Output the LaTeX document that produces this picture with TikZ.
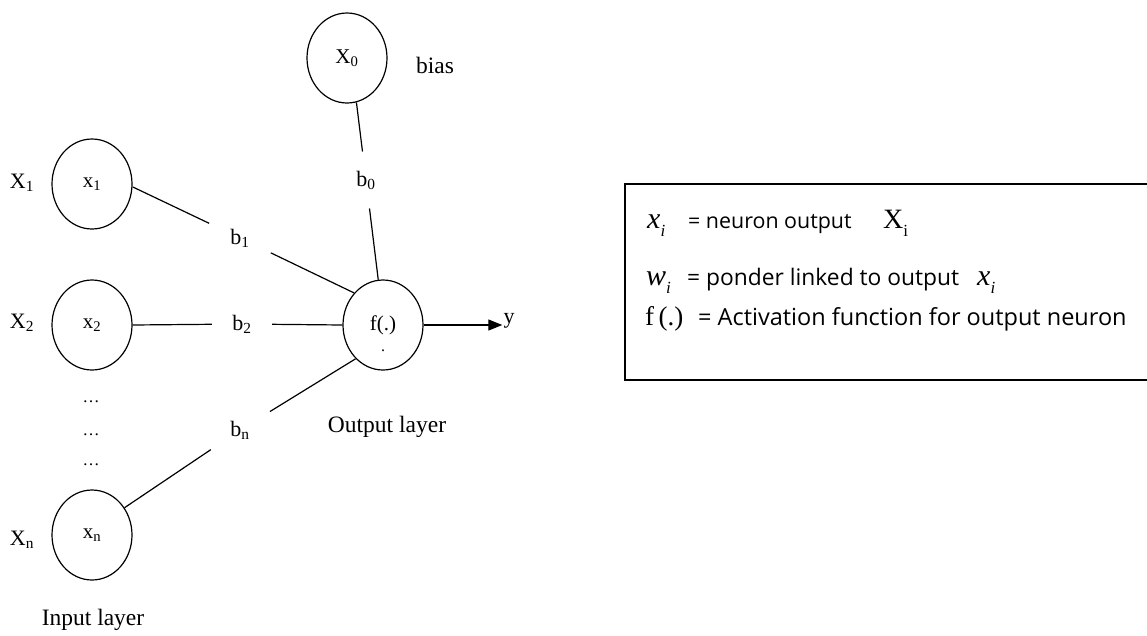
\documentclass[tikz,border=0pt]{standalone}
\usepackage{fontspec}
\setmainfont{Liberation Serif}
\newfontfamily\legendsans{Open Sans}
\usetikzlibrary{shapes.geometric,arrows.meta}
\newcommand\fsz[1]{\fontsize{#1}{#1}\selectfont}
\newcommand\lowsub[1]{\raisebox{-8pt}{\fsz{17}#1}}
\begin{document}
\begin{tikzpicture}[x=1pt,y=-1pt,
  neuron/.style={draw, ellipse, minimum width=80pt, minimum height=90pt, inner sep=0pt, line width=1.2pt, font=\fsz{21}},
  gap/.style={circle, inner sep=0pt, font=\fsz{22}},
  lab/.style={font=\fsz{22}, inner sep=0pt},
  captext/.style={font=\fsz{23.5}, inner sep=0pt},
  wire/.style={line width=1.2pt},
  leg/.style={anchor=base west, inner sep=0pt},
]
\useasboundingbox (0,0) rectangle (1147,635);
% neurons
\node[neuron] (x0) at (347,58) {X\textsubscript{0}};
\node[neuron] (x1) at (92,184) {x\textsubscript{1}};
\node[neuron] (x2) at (92,325) {x\textsubscript{2}};
\node[neuron] (xn) at (92,535) {x\textsubscript{n}};
\node[neuron] (f) at (383,325) {f(.)};
\node[lab, font=\fsz{16}, anchor=base] (fdot) at (383,351) {.};
% weight labels (gaps in the wires)
\node[gap, minimum size=57pt] (b0) at (366,180) {b\textsubscript{0}};
\node[gap, minimum size=68pt] (b1) at (240,238) {b\textsubscript{1}};
\node[gap, minimum size=60pt] (b2) at (242,324) {b\textsubscript{2}};
\node[gap, minimum size=70pt] (bn) at (240,430) {b\textsubscript{n}};
% wires
\draw[wire] (x0.282) -- (b0);
\draw[wire] (b0) -- (f.96);
\draw[wire] (x1.-4) -- (b1);
\draw[wire] (b1) -- (f.132);
\draw[wire] (x2.east) -- (b2);
\draw[wire] (b2) -- (f.west);
\draw[wire] (xn.40) -- (bn);
\draw[wire] (bn) -- (f.231);
% output
\node[lab, inner sep=1pt] (y) at (509,321) {y};
\draw[wire, -{Triangle[length=14pt,width=11pt]}] (f.east) -- (y.west |- f.east);
% side labels
\node[lab] (X1) at (22,183) {X\textsubscript{1}};
\node[lab] (X2) at (22,323) {X\textsubscript{2}};
\node[lab] (Xn) at (22,540) {X\textsubscript{n}};
\node[captext] (bias) at (435,65) {bias};
\node[lab, font=\fsz{17}, anchor=base] (d1) at (91,402) {\ldots};
\node[lab, font=\fsz{17}, anchor=base] (d2) at (91,435) {\ldots};
\node[lab, font=\fsz{17}, anchor=base] (d3) at (91,465) {\ldots};
\node[captext] (outl) at (387,427) {Output layer};
\node[captext] (inl) at (93,620) {Input layer};
% legend (its right side runs off the picture)
\node[minimum width=522pt, minimum height=196pt, inner sep=0pt] (legend) at (886,282) {};
\draw[line width=1.5pt] (legend.north east) -- (legend.north west) -- (legend.south west) -- (legend.south east);
\node[leg, font=\fsz{30}\itshape] (l1a) at (647,228) {x\lowsub{i}};
\node[leg, font=\fsz{21.4}\legendsans] (l1b) at (688,228) {= neuron output};
\node[leg, font=\fsz{28}] (l1c) at (883,228) {X\lowsub{\upshape i}};
\node[leg, font=\fsz{30}\itshape] (l2a) at (646,285) {w\lowsub{i}};
\node[leg, font=\fsz{22.8}\legendsans] (l2b) at (687,285) {= ponder linked to output};
\node[leg, font=\fsz{30}\itshape] (l2c) at (977,285) {x\lowsub{i}};
\node[leg, font=\fsz{27}] (l3a) at (645,325) {f\,(.)};
\node[leg, font=\fsz{23.5}\legendsans] (l3b) at (698,325) {= Activation function for output neuron};
\end{tikzpicture}
\end{document}
